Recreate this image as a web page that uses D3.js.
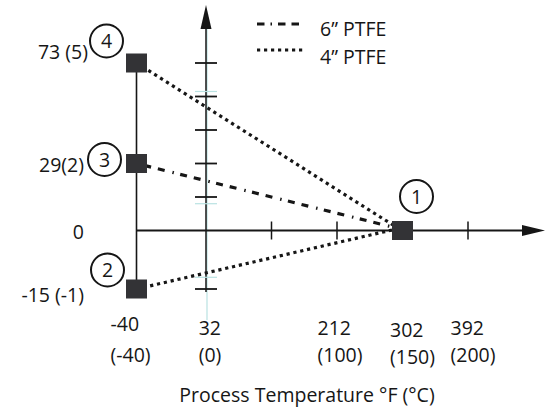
<!DOCTYPE html>
<html>
<head>
<meta charset="utf-8">
<script src="https://cdn.jsdelivr.net/npm/d3@7"></script>
<style>
  body { margin: 0; background: #fff; }
  svg { display: block; font-family: "Open Sans", sans-serif; }
</style>
</head>
<body>
<script>
// process temperature (deg C) and pressure (bar) of the numbered points
const pointIds = [1, 2, 3, 4];
const pointTempC = [150, -40, -40, -40];
const pointBar = [0, -1, 2, 5];

// lines between points, by id
const series = [
  { name: "6\u201D PTFE", style: "dashdot", from: [3], to: 1 },
  { name: "4\u201D PTFE", style: "dotted", from: [4, 2], to: 1 }
];

// pressure labels, psi (bar)
const yLabelValues = [5, 2, 0, -1];
const yLabelText = ["73 (5)", "29(2)", "0", "-15 (-1)"];
const yTickValues = [-1, 1, 2, 3, 4, 5];
const yGhostTicks = [4.15, 0.8, -0.8];

// temperature labels, F over (C)
const xLabelC = [-40, 0, 100, 150, 200];
const xLabelF = ["-40", "32", "212", "302", "392"];
const xTickValues = [50, 100, 150, 200];

const width = 548, height = 411;
const ink = "#161616", boxFill = "#333336", ghost = "#b9e2e2";
const fs = 19.5;
const dashes = { dashdot: "1.5,6.5,7,7,7,8", dotted: "3.2,3.8" };

// the drawing is schematic, so both scales are piecewise
const x = d3.scaleLinear().domain([-40, 0, 200]).range([136.5, 206, 468]);
const y = d3.scaleLinear().domain([-1, 0, 5]).range([289, 230.5, 63]);

const svg = d3.select("body").append("svg")
    .attr("width", width)
    .attr("height", height);

const pts = pointIds.map((id, i) => ({ id, t: pointTempC[i], p: pointBar[i] }));
const byId = id => pts.find(d => d.id === id);

// left pressure bar
svg.append("line")
    .attr("x1", x(-40)).attr("x2", x(-40))
    .attr("y1", y(5)).attr("y2", y(-1))
    .attr("stroke", ink).attr("stroke-width", 1.6);

// vertical (pressure) axis at 0 C
svg.append("line")
    .attr("x1", x(0) + 1).attr("x2", x(0) + 1)
    .attr("y1", 29).attr("y2", 320)
    .attr("stroke", ghost).attr("stroke-width", 1.2);
svg.append("line")
    .attr("x1", x(0)).attr("x2", x(0))
    .attr("y1", 29).attr("y2", y(-1) + 3)
    .attr("stroke", ink).attr("stroke-width", 1.5);
svg.append("path")
    .attr("d", `M${x(0)},5L${x(0) - 5.5},29L${x(0) + 5.5},29Z`)
    .attr("fill", ink);

svg.selectAll(".ghost").data(yGhostTicks).enter().append("line")
    .attr("x1", x(0) - 11).attr("x2", x(0) + 11)
    .attr("y1", d => y(d)).attr("y2", d => y(d))
    .attr("stroke", ghost).attr("stroke-width", 1.2);

svg.selectAll(".ytick").data(yTickValues).enter().append("line")
    .attr("x1", x(0) - 11).attr("x2", x(0) + 11)
    .attr("y1", d => y(d)).attr("y2", d => y(d))
    .attr("stroke", ink).attr("stroke-width", 1.8);

// horizontal (temperature) axis at 0 bar
svg.append("line")
    .attr("x1", x(-40)).attr("x2", 525)
    .attr("y1", y(0)).attr("y2", y(0))
    .attr("stroke", ink).attr("stroke-width", 2);
svg.append("path")
    .attr("d", `M545,${y(0)}L522,${y(0) - 5.5}L522,${y(0) + 5.5}Z`)
    .attr("fill", ink);

svg.selectAll(".xtick").data(xTickValues).enter().append("line")
    .attr("x1", d => x(d)).attr("x2", d => x(d))
    .attr("y1", y(0) - 9).attr("y2", y(0) + 9)
    .attr("stroke", ink).attr("stroke-width", 1.5);

// series lines
series.forEach(s => {
  s.from.forEach(id => {
    const a = byId(id), b = byId(s.to);
    svg.append("line")
        .attr("x1", x(a.t)).attr("y1", y(a.p))
        .attr("x2", x(b.t) - 4).attr("y2", y(b.p) - 2)
        .attr("stroke", ink).attr("stroke-width", 3.2)
        .attr("stroke-dasharray", dashes[s.style]);
  });
});

// point markers
svg.selectAll(".box").data(pts).enter().append("rect")
    .attr("x", d => x(d.t) - 10.5).attr("y", d => y(d.p) - 9.5)
    .attr("width", 21).attr("height", 19)
    .attr("fill", boxFill);

// numbered circles beside each point
const callout = { 1: [14, -34], 2: [-29, -19], 3: [-32, -4], 4: [-30, -22] };
const badge = svg.selectAll(".badge").data(pts).enter().append("g")
    .attr("transform", d => `translate(${x(d.t) + callout[d.id][0]},${y(d.p) + callout[d.id][1]})`);
badge.append("circle")
    .attr("r", 16.5).attr("fill", "#fff")
    .attr("stroke", ink).attr("stroke-width", 2);
badge.append("text")
    .attr("text-anchor", "middle").attr("dy", "0.36em")
    .attr("font-size", fs).attr("fill", ink)
    .text(d => d.id);

// pressure labels
const yNudge = [-4, 8, 8, 13];
svg.selectAll(".ylab").data(yLabelValues).enter().append("text")
    .attr("x", (d, i) => i === 0 ? 88 : 84)
    .attr("y", (d, i) => y(d) + yNudge[i])
    .attr("text-anchor", "end")
    .attr("font-size", fs).attr("fill", ink)
    .text((d, i) => yLabelText[i]);

// temperature labels, two lines each
const xNudge = [-6, 4, 3, 10, 5];
const xlab = svg.selectAll(".xlab").data(xLabelC).enter().append("g")
    .attr("transform", (d, i) => `translate(${x(d) + xNudge[i]},0)`);
xlab.append("text")
    .attr("class", "c")
    .attr("y", (d, i) => i === 3 ? 364 : 362).attr("text-anchor", "middle")
    .attr("font-size", fs).attr("fill", ink)
    .text(d => `(${d})`);
xlab.append("text")
    .attr("y", (d, i) => i === 0 ? 331 : i === 3 ? 337 : 335)
    .attr("font-size", fs).attr("fill", ink)
    .text((d, i) => xLabelF[i])
    .attr("x", function() {
      const w = this.parentNode.querySelector(".c").getComputedTextLength();
      return -w / 2;
    });

svg.append("text")
    .attr("x", 307).attr("y", 402)
    .attr("text-anchor", "middle")
    .attr("font-size", fs).attr("fill", ink)
    .text("Process Temperature \u00B0F (\u00B0C)");

// legend
const legend = svg.selectAll(".legend").data(series).enter().append("g")
    .attr("transform", (d, i) => `translate(257,${24 + i * 26})`);
legend.append("line")
    .attr("x1", 0).attr("x2", 47)
    .attr("stroke", ink).attr("stroke-width", 3.2)
    .attr("stroke-dasharray", d => d.style === "dashdot" ? "7.5,6,1.5,6,7.5,6,7.5" : dashes.dotted);
legend.append("text")
    .attr("x", 63).attr("y", (d, i) => 12 + i * 2)
    .attr("font-size", fs).attr("fill", ink)
    .text(d => d.name);
</script>
</body>
</html>
